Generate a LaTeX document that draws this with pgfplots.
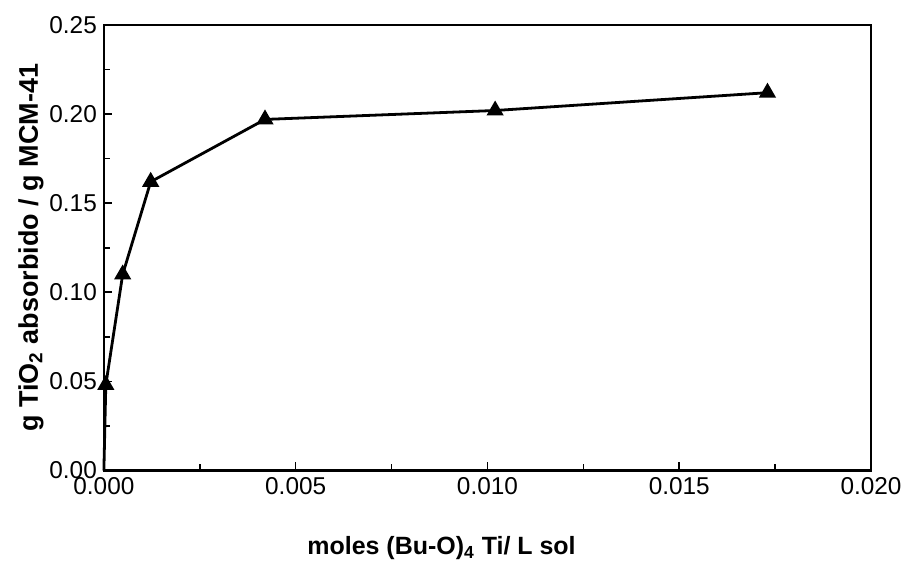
\documentclass[border=0pt]{standalone}
\usepackage{fontspec}
\setmainfont{Liberation Sans}
\usepackage{pgfplots}
\pgfplotsset{compat=1.18}

\begin{document}
\begin{tikzpicture}
  \begin{axis}[
      width=384pt, height=223pt, scale only axis,
      xmin=0, xmax=0.02, ymin=0, ymax=0.25,
      xtick={0,0.005,0.010,0.015,0.020},
      ytick={0,0.05,0.10,0.15,0.20,0.25},
      minor tick num=1,
      tick pos=left, tick align=inside,
      major tick length=4pt, minor tick length=3pt,
      scaled x ticks=false, scaled y ticks=false,
      xticklabel style={inner xsep=0pt, /pgf/number format/.cd, fixed, fixed zerofill, precision=3},
      yticklabel style={/pgf/number format/.cd, fixed, fixed zerofill, precision=2},
      /pgf/number format/assume math mode=true,
      ticklabel style={font=\fontsize{12.2}{14}\selectfont},
      axis line style={line width=1.3pt},
      every tick/.style={black, line width=0.8pt},
      xlabel={\textbf{moles (Bu-O)\textsubscript{4} Ti/ L sol}},
      ylabel={\textbf{g TiO\textsubscript{2} absorbido / g MCM-41}},
      xlabel style={font=\fontsize{12.5}{14}\selectfont, yshift=-14pt, xshift=-23pt},
      ylabel style={font=\fontsize{13.5}{15}\selectfont, yshift=-4pt},
      clip=false,
    ]
    % adsorption isotherm
    \addplot[black, line width=1.4pt, mark=triangle*, mark size=3.6pt,
             mark options={solid, fill=black}]
      coordinates {
        (0.00005, 0.048)
        (0.00049, 0.110)
        (0.00122, 0.162)
        (0.00420, 0.197)
        (0.01020, 0.202)
        (0.01730, 0.212)
      };
    \addplot[black, line width=1.4pt] coordinates {(0,0) (0.00005, 0.048)};
  \end{axis}
  \path ([shift={(-52pt,-48pt)}]current axis.south west)
    rectangle ([shift={(16pt,12.5pt)}]current axis.north east);
\end{tikzpicture}
\end{document}
